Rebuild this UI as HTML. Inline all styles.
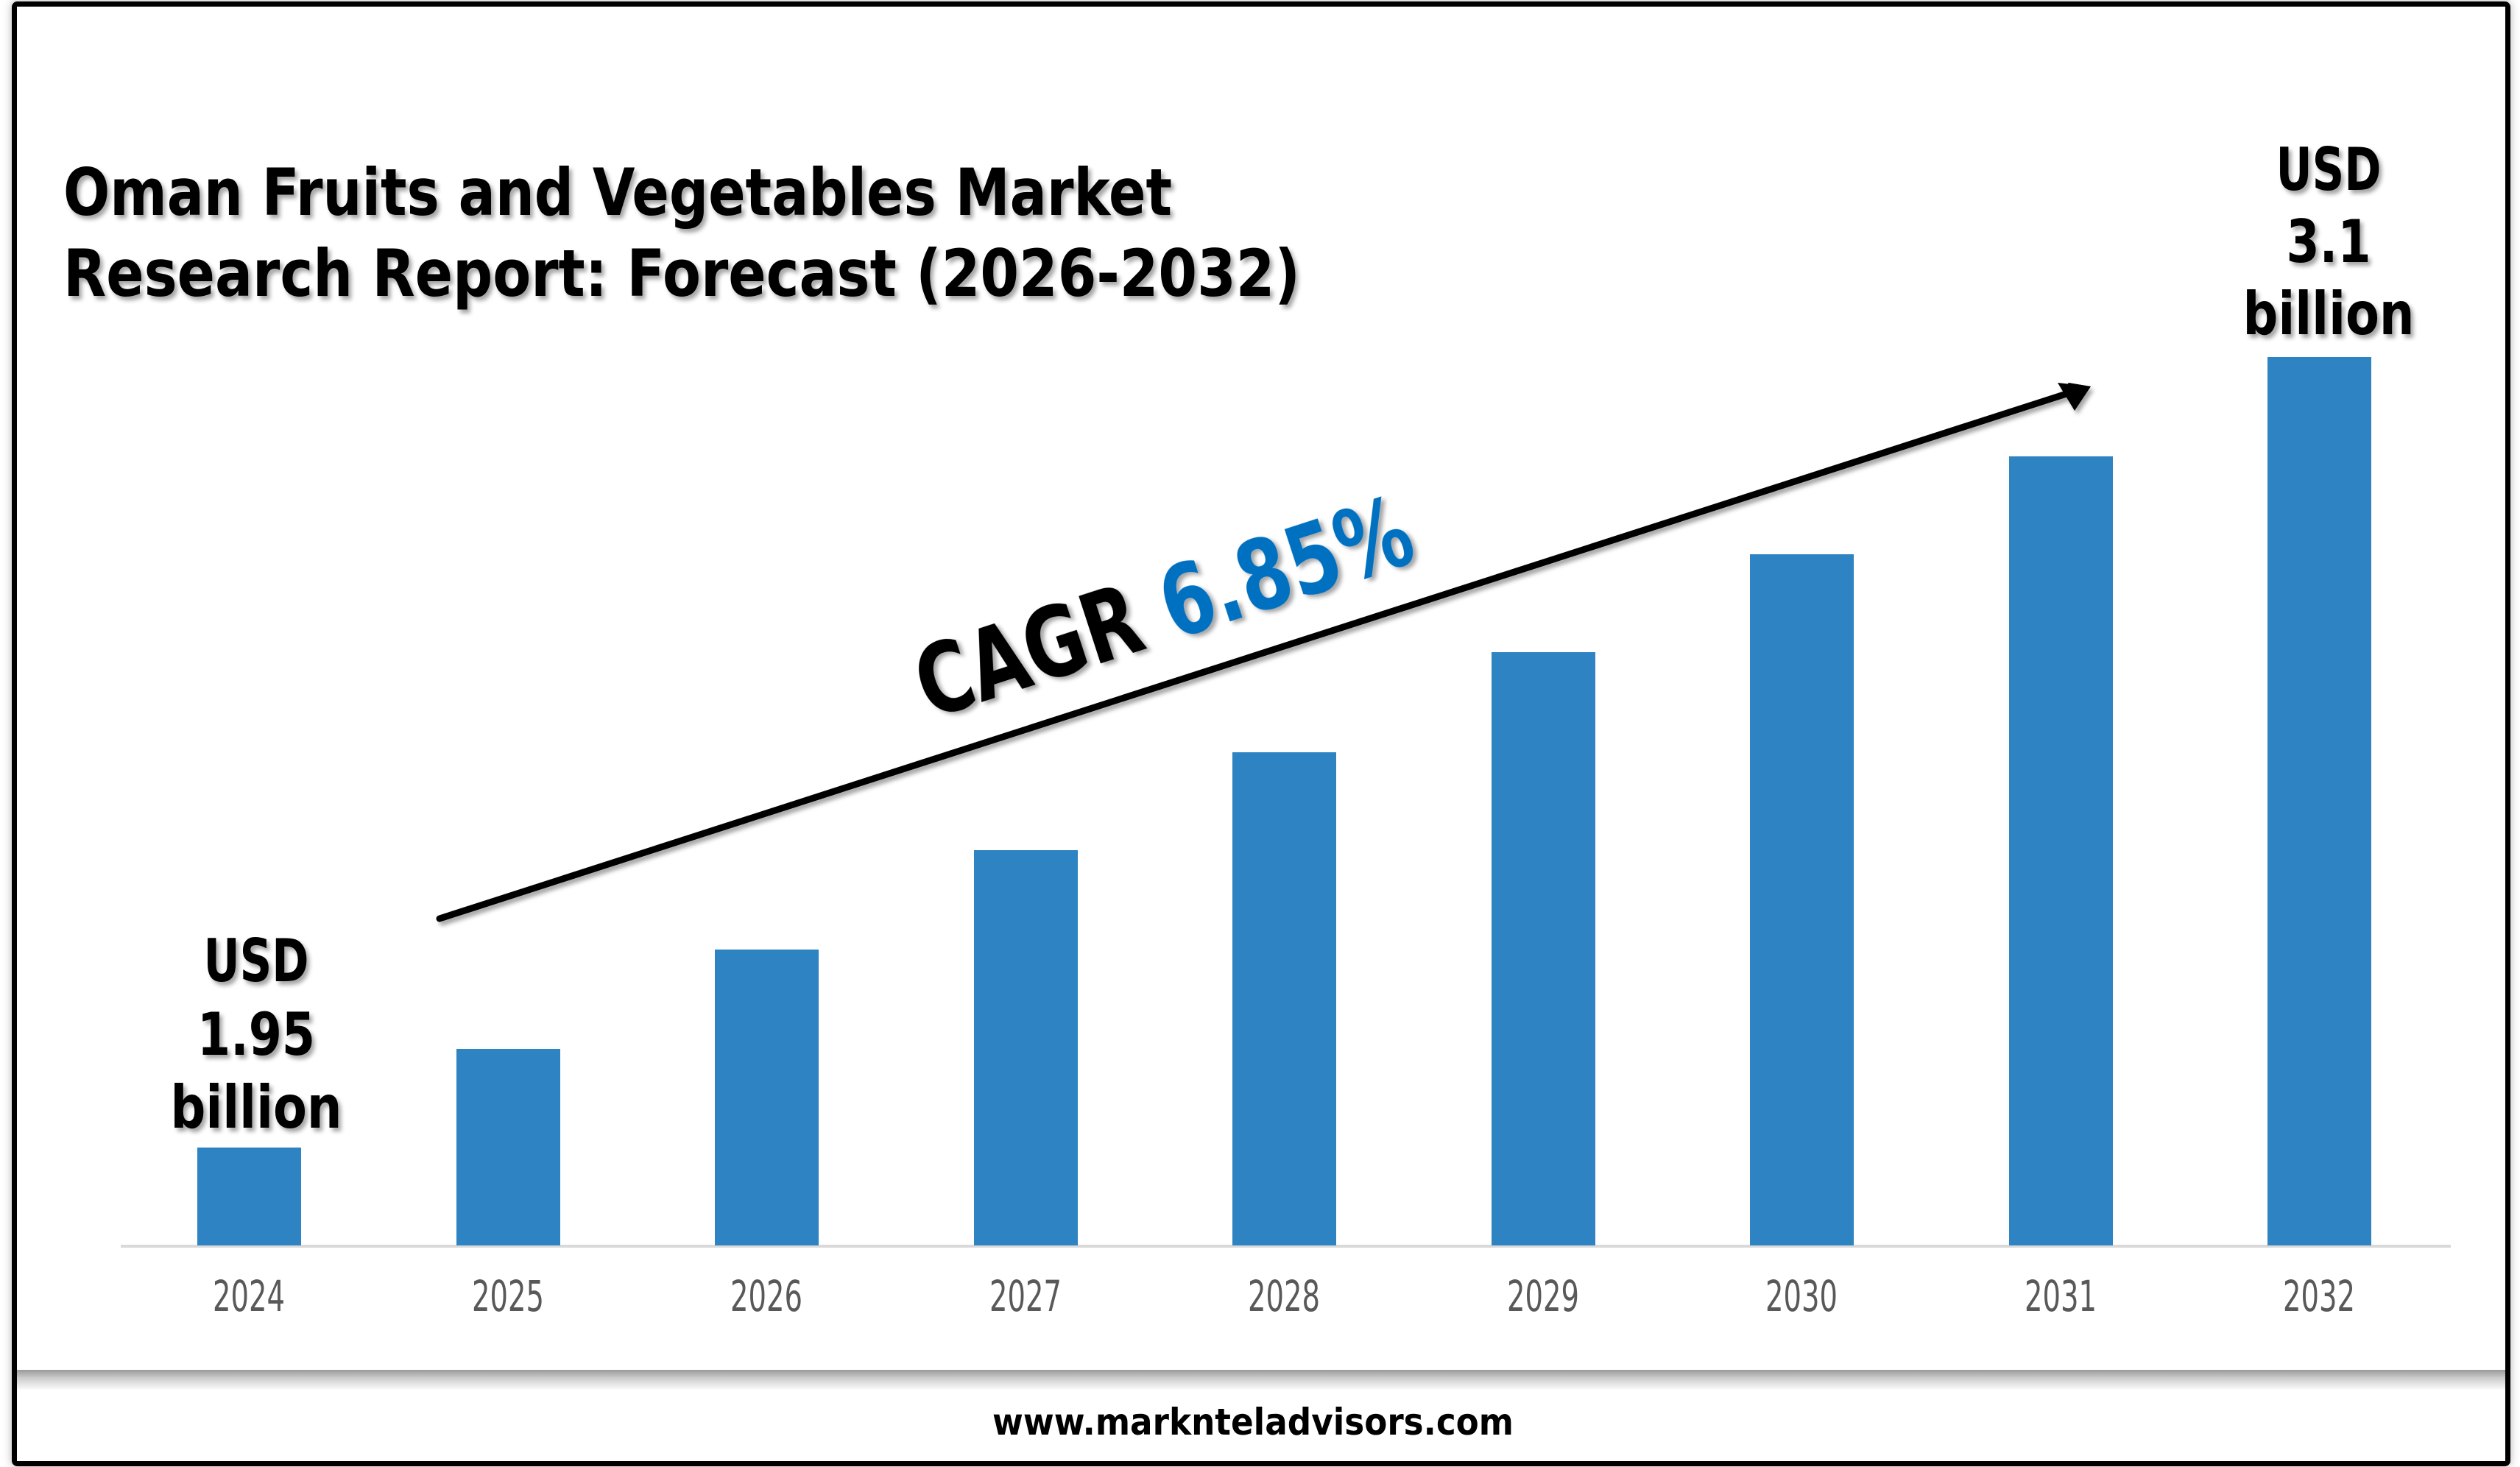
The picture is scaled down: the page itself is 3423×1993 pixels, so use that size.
<!DOCTYPE html>
<html><head><meta charset="utf-8"><style>
html,body{margin:0;padding:0;background:#fff;}
svg{display:block;}
text{font-family:"DejaVu Sans","Liberation Sans",sans-serif;}
</style></head><body>
<svg width="3423" height="1993" viewBox="0 0 3423 1993" xmlns="http://www.w3.org/2000/svg">
<defs>
<filter id="sh" x="-5%" y="-5%" width="110%" height="120%"><feDropShadow dx="4" dy="5" stdDeviation="3" flood-color="#000" flood-opacity="0.35"/></filter>
<filter id="fs" x="-2%" y="-2%" width="104%" height="104%"><feDropShadow dx="0" dy="0" stdDeviation="6" flood-color="#000" flood-opacity="0.3"/></filter>
<linearGradient id="band" x1="0" y1="0" x2="0" y2="1">
<stop offset="0" stop-color="#999"/><stop offset="0.4" stop-color="#ccc"/><stop offset="1" stop-color="#fff"/></linearGradient>
</defs>
<rect x="0" y="0" width="3423" height="1993" fill="#fff"/>
<rect x="19.5" y="5.5" width="3387" height="1983" fill="#fff" stroke="#000" stroke-width="7" rx="4" filter="url(#fs)"/>
<rect x="23" y="9" width="3380" height="1976" fill="#fff"/>
<rect x="23" y="1861" width="3380" height="28" fill="url(#band)"/>
<!-- axis -->
<rect x="164" y="1691" width="3165" height="4" fill="#d9d9d9"/>
<!-- bars -->
<g fill="#2e83c3">
<rect x="268" y="1559" width="141" height="133"/>
<rect x="620" y="1425" width="141" height="267"/>
<rect x="971" y="1290" width="141" height="402"/>
<rect x="1323" y="1155" width="141" height="537"/>
<rect x="1674" y="1022" width="141" height="670"/>
<rect x="2026" y="886" width="141" height="806"/>
<rect x="2377" y="753" width="141" height="939"/>
<rect x="2729" y="620" width="141" height="1072"/>
<rect x="3080" y="485" width="141" height="1207"/>
</g>
<!-- years -->
<g font-size="58" fill="#595959" text-anchor="middle" font-family="Liberation Sans Narrow, Liberation Sans, sans-serif">
<text x="338" y="1781" textLength="98" lengthAdjust="spacingAndGlyphs">2024</text>
<text x="690" y="1781" textLength="98" lengthAdjust="spacingAndGlyphs">2025</text>
<text x="1041" y="1781" textLength="98" lengthAdjust="spacingAndGlyphs">2026</text>
<text x="1393" y="1781" textLength="98" lengthAdjust="spacingAndGlyphs">2027</text>
<text x="1744" y="1781" textLength="98" lengthAdjust="spacingAndGlyphs">2028</text>
<text x="2096" y="1781" textLength="98" lengthAdjust="spacingAndGlyphs">2029</text>
<text x="2447" y="1781" textLength="98" lengthAdjust="spacingAndGlyphs">2030</text>
<text x="2799" y="1781" textLength="98" lengthAdjust="spacingAndGlyphs">2031</text>
<text x="3150" y="1781" textLength="98" lengthAdjust="spacingAndGlyphs">2032</text>
</g>
<!-- title -->
<g font-size="88" font-weight="bold" fill="#000" filter="url(#sh)">
<text x="86" y="292" textLength="1506" lengthAdjust="spacingAndGlyphs">Oman Fruits and Vegetables Market</text>
<text x="86" y="402" textLength="1680" lengthAdjust="spacingAndGlyphs">Research Report: Forecast (2026-2032)</text>
</g>
<!-- value labels -->
<g font-size="80" font-weight="bold" fill="#000" text-anchor="middle" filter="url(#sh)">
<text x="348" y="1333" textLength="143" lengthAdjust="spacingAndGlyphs">USD</text>
<text x="348" y="1433" textLength="160" lengthAdjust="spacingAndGlyphs">1.95</text>
<text x="348" y="1532" textLength="233" lengthAdjust="spacingAndGlyphs">billion</text>
<text x="3163" y="258" textLength="143" lengthAdjust="spacingAndGlyphs">USD</text>
<text x="3163" y="356" textLength="115" lengthAdjust="spacingAndGlyphs">3.1</text>
<text x="3163" y="454" textLength="233" lengthAdjust="spacingAndGlyphs">billion</text>
</g>
<!-- arrow -->
<g filter="url(#sh)">
<line x1="597" y1="1248" x2="2810" y2="534" stroke="#000" stroke-width="9" stroke-linecap="round"/>
<polygon points="2839,525 2810,520 2818,545" fill="#000" transform="" />
<polygon points="2840,525 2809,520 2818,546" fill="#000"/>
<polygon points="2840,525 2795,520 2818,558" fill="#000"/>
</g>
<!-- CAGR -->
<g transform="translate(1262,977) rotate(-18)" font-size="132" font-weight="bold" filter="url(#sh)">
<text x="0" y="0" textLength="700" lengthAdjust="spacingAndGlyphs"><tspan fill="#000">CAGR </tspan><tspan fill="#0070c0">6.85%</tspan></text>
</g>
<!-- footer -->
<text x="1702" y="1949" font-size="50" font-weight="bold" fill="#000" text-anchor="middle" textLength="708" lengthAdjust="spacingAndGlyphs">www.marknteladvisors.com</text>
</svg>
</body></html>
